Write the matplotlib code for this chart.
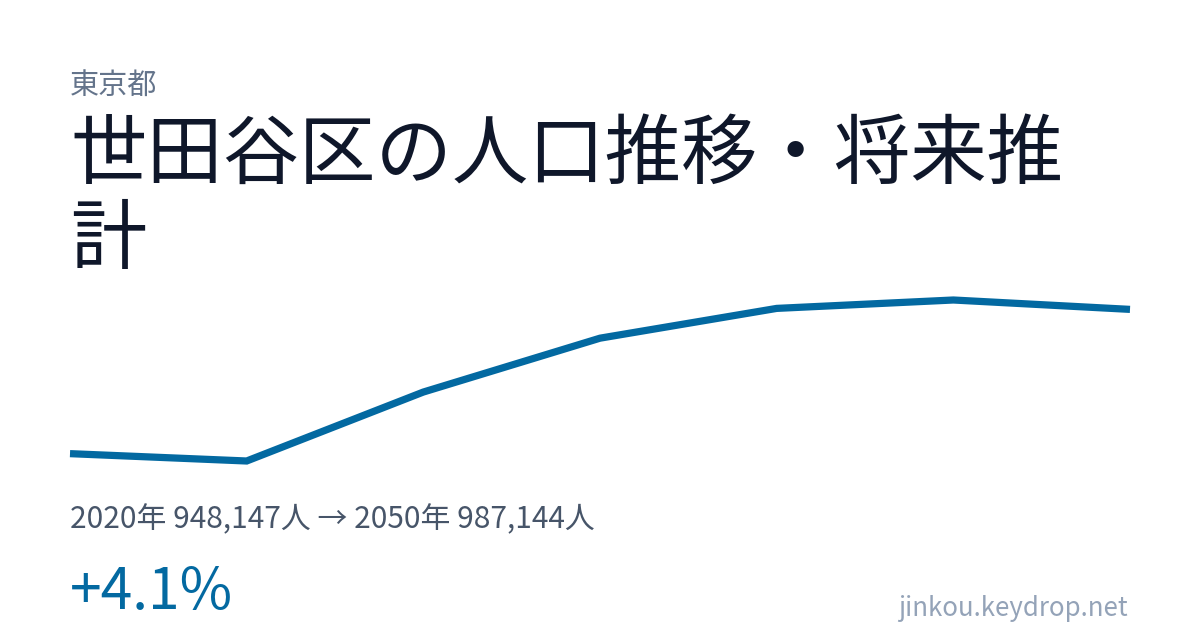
import matplotlib
matplotlib.use("Agg")
import matplotlib.pyplot as plt

plt.rcParams['font.family'] = ['Noto Sans CJK JP', 'DejaVu Sans']

years = [2020, 2025, 2030, 2035, 2040, 2045, 2050]
population = [948147, 946160, 964800, 979360, 987410, 989680, 987144]

prefecture = "東京都"
title_lines = ["世田谷区の人口推移・将来推", "計"]
summary = "2020年 948,147人 → 2050年 987,144人"
change = "+4.1%"
site = "jinkou.keydrop.net"

W, H = 1200, 630
fig = plt.figure(figsize=(W / 100, H / 100), dpi=100)
fig.patch.set_facecolor('white')


def px(x, y):
    return x / W, 1 - y / H


# line chart area
ax = fig.add_axes([70 / W, 1 - 461 / H, 1060 / W, 161 / H])
ax.plot(years, population, color='#0369a1', linewidth=5.2,
        solid_joinstyle='miter', solid_capstyle='butt', clip_on=False)
ax.set_xlim(years[0], years[-1])
ax.set_ylim(min(population), max(population))
ax.axis('off')

fig.text(*px(70, 94), prefecture, fontsize=21, color='#64748b', va='baseline')
fig.text(*px(70, 178), title_lines[0], fontsize=55, color='#0f172a', va='baseline')
fig.text(*px(70, 263), title_lines[1], fontsize=55, color='#0f172a', va='baseline')
fig.text(*px(70, 528), summary, fontsize=21.5, color='#475569', va='baseline')
fig.text(*px(70, 609), change, fontsize=41, color='#0369a1', va='baseline')
fig.text(*px(1128, 616), site, fontsize=18.6, color='#94a3b8', va='baseline', ha='right')

fig.savefig('out.png', dpi=100, facecolor='white')
